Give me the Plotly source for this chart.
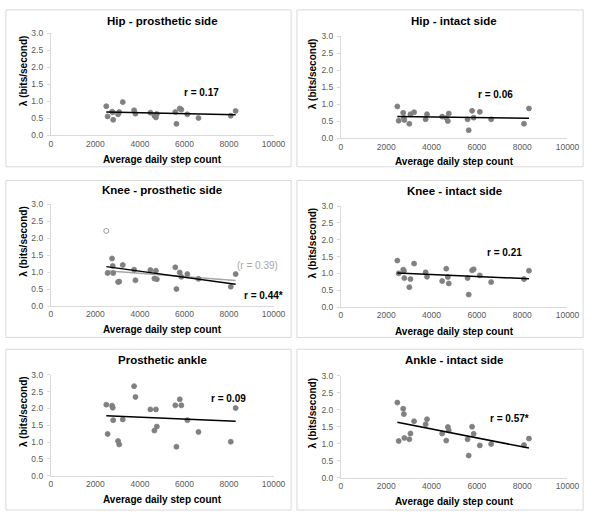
import plotly.graph_objects as go

W, H = 600, 517

# ---- data ----
steps = [2490, 2550, 2750, 2780, 2800, 3020, 3070, 3230, 3740, 3800, 4470,
         4650, 4720, 4760, 5590, 5640, 5790, 5860, 6130, 6630, 8080, 8300]

hip_pros = [0.86, 0.56, 0.70, 0.68, 0.46, 0.62, 0.69, 0.98, 0.74, 0.64, 0.67,
            0.58, 0.53, 0.63, 0.69, 0.34, 0.79, 0.76, 0.62, 0.51, 0.58, 0.72]
hip_int = [0.94, 0.52, 0.75, 0.60, 0.54, 0.43, 0.71, 0.77, 0.56, 0.71, 0.64,
           0.60, 0.51, 0.73, 0.56, 0.24, 0.81, 0.61, 0.78, 0.56, 0.43, 0.88]
knee_pros = [2.21, 0.97, 1.40, 1.18, 0.97, 0.71, 0.72, 1.21, 1.07, 0.76, 1.06,
             0.81, 1.04, 0.79, 1.14, 0.50, 0.99, 0.86, 0.94, 0.80, 0.57, 0.94]
knee_pros_hollow = [0]  # index of the open-circle point
knee_int = [1.38, 1.00, 1.11, 1.07, 0.86, 0.59, 0.83, 1.29, 1.03, 0.90, 0.77,
            1.14, 0.89, 0.70, 0.86, 0.37, 1.09, 1.12, 0.94, 0.74, 0.83, 1.08]
pros_ankle = [2.11, 1.24, 2.08, 2.02, 1.65, 1.03, 0.93, 1.67, 2.66, 2.34, 1.97,
              1.34, 1.97, 1.46, 2.09, 0.86, 2.27, 2.09, 1.65, 1.30, 1.01, 2.01]
ankle_int = [2.21, 1.08, 2.03, 1.87, 1.17, 1.13, 1.30, 1.66, 1.57, 1.72, 1.30,
             1.09, 1.49, 1.39, 1.13, 0.65, 1.50, 1.29, 0.95, 0.99, 0.96, 1.15]

# trend line values at the first and last step count
trend_hip_pros = [0.69, 0.61]
trend_hip_int = [0.64, 0.59]
trend_knee_pros = [1.16, 0.645]
trend_knee_pros_alt = [1.04, 0.75]
trend_knee_int = [1.01, 0.84]
trend_pros_ankle = [1.78, 1.62]
trend_ankle_int = [1.63, 0.87]

titles = ["Hip - prosthetic side", "Hip - intact side", "Knee - prosthetic side",
          "Knee - intact side", "Prosthetic ankle", "Ankle - intact side"]
r_labels = ["r = 0.17", "r = 0.06", "r = 0.44*", "r = 0.21", "r = 0.09", "r = 0.57*"]
r_pos = [(6780, 1.27), (6820, 1.30), (9530, 0.32), (7235, 1.63), (7960, 2.30), (7420, 1.75)]
alt_label = "(r = 0.39)"
alt_pos = (9270, 1.20)

x_ticks = [0, 2000, 4000, 6000, 8000, 10000]
y_ticks = [0.0, 0.5, 1.0, 1.5, 2.0, 2.5, 3.0]
x_title = "Average daily step count"
y_title = "λ (bits/second)"

# ---- layout geometry (pixels) ----
plots = [(50, 278, 29, 133), (347, 579, 32, 136),
         (50, 278, 203, 307), (347, 579, 205, 308),
         (50, 278, 377, 480), (347, 579, 378, 482)]
boxes = [(4, 5, 296, 165), (302, 5, 595, 165),
         (4, 179, 296, 339), (302, 179, 595, 339),
         (4, 351, 296, 515), (302, 351, 595, 515)]
title_y = [16, 16, 189, 190, 362, 362]
xtitle_y = [158, 160, 331, 333, 504, 506]
ytitle_x = [22, 318, 22, 318, 22, 318]


def px(x):
    return x / W


def py(y):
    return 1 - y / H


series = [hip_pros, hip_int, knee_pros, knee_int, pros_ankle, ankle_int]
trends = [trend_hip_pros, trend_hip_int, trend_knee_pros, trend_knee_int,
          trend_pros_ankle, trend_ankle_int]

fig = go.Figure()
GRAY = "#808080"
AX = "#d9d9d9"
TICKC = "#595959"

for i in range(6):
    n = i + 1
    xa = "x" if n == 1 else f"x{n}"
    ya = "y" if n == 1 else f"y{n}"
    ys = series[i]
    if i == 2:
        symbols = ["circle-open" if k in knee_pros_hollow else "circle" for k in range(len(ys))]
    else:
        symbols = ["circle"] * len(ys)
    xs_tr = [min(steps), max(steps)]
    if i == 2:
        fig.add_trace(go.Scatter(x=xs_tr, y=trend_knee_pros_alt, mode="lines",
                                 line=dict(color="#a6a6a6", width=1.5),
                                 xaxis=xa, yaxis=ya, showlegend=False, hoverinfo="skip"))
    fig.add_trace(go.Scatter(x=steps, y=ys, mode="markers",
                             marker=dict(color=GRAY, size=5, symbol=symbols,
                                         line=dict(color=GRAY, width=0.8)),
                             xaxis=xa, yaxis=ya, showlegend=False))
    fig.add_trace(go.Scatter(x=xs_tr, y=trends[i], mode="lines",
                             line=dict(color="black", width=1.5),
                             xaxis=xa, yaxis=ya, showlegend=False, hoverinfo="skip"))

    x0, x1, yt, yb = plots[i]
    fig.layout[f"xaxis{'' if n == 1 else n}"] = dict(
        domain=[px(x0), px(x1)], anchor=ya, range=[0, 10000],
        tickvals=x_ticks, ticktext=[str(v) for v in x_ticks],
        showgrid=False, zeroline=False, showline=True, linecolor=AX, linewidth=1,
        ticks="", ticklabelstandoff=0,
        tickfont=dict(family="Liberation Sans", size=8.5, color=TICKC))
    fig.layout[f"yaxis{'' if n == 1 else n}"] = dict(
        domain=[py(yb), py(yt)], anchor=xa, range=[0, 3],
        tickvals=y_ticks, ticktext=[f"{v:.1f}" for v in y_ticks],
        showgrid=False, zeroline=False, showline=True, linecolor=AX, linewidth=1,
        ticks="outside", ticklen=3, tickcolor=AX, ticklabelstandoff=2,
        tickfont=dict(family="Liberation Sans", size=8.5, color=TICKC))

    bx0, by0, bx1, by1 = boxes[i]
    fig.add_shape(type="rect", xref="paper", yref="paper",
                  x0=px(bx0), x1=px(bx1), y0=py(by1), y1=py(by0),
                  line=dict(color=AX, width=1), fillcolor="rgba(0,0,0,0)")

    fig.add_annotation(text=f"<b>{titles[i]}</b>", xref="paper", yref="paper",
                       x=px((x0 + x1) / 2), y=py(title_y[i]), showarrow=False,
                       xanchor="center", yanchor="middle",
                       font=dict(family="Liberation Sans", size=11.5, color="black"))
    fig.add_annotation(text=f"<b>{x_title}</b>", xref="paper", yref="paper",
                       x=px((x0 + x1) / 2), y=py(xtitle_y[i]), showarrow=False,
                       xanchor="center", yanchor="middle",
                       font=dict(family="Liberation Sans", size=10, color="black"))
    fig.add_annotation(text=f"<b>{y_title}</b>", xref="paper", yref="paper",
                       x=px(ytitle_x[i]), y=py((yt + yb) / 2 - 14), showarrow=False,
                       textangle=-90, xanchor="center", yanchor="middle",
                       font=dict(family="Liberation Sans", size=10, color="black"))
    fig.add_annotation(text=f"<b>{r_labels[i]}</b>", xref=xa, yref=ya,
                       x=r_pos[i][0], y=r_pos[i][1], showarrow=False,
                       xanchor="center", yanchor="middle",
                       font=dict(family="Liberation Sans", size=10, color="black"))
    if i == 2:
        fig.add_annotation(text=alt_label, xref=xa, yref=ya,
                           x=alt_pos[0], y=alt_pos[1], showarrow=False,
                           xanchor="center", yanchor="middle",
                           font=dict(family="Liberation Sans", size=10, color="#a6a6a6"))

fig.update_layout(width=W, height=H, margin=dict(l=0, r=0, t=0, b=0),
                  plot_bgcolor="white", paper_bgcolor="white")

fig.write_html("out.html", config={"displayModeBar": False},
               post_script="document.body.style.margin='0';document.body.style.padding='0';")
